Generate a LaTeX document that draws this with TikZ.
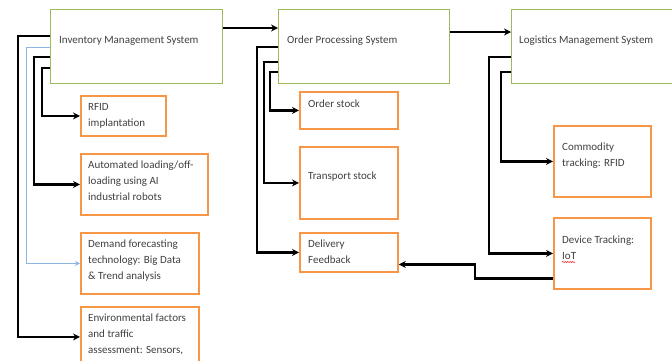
\documentclass[tikz,border=0pt]{standalone}
\usepackage{fontspec}
\setmainfont{Carlito}
\usetikzlibrary{arrows.meta,positioning,calc,decorations.pathmorphing}
\definecolor{sysgreen}{RGB}{155,187,89}
\definecolor{suborange}{RGB}{247,150,70}
\definecolor{linkblue}{RGB}{141,180,226}
\tikzset{
  blk/.style={draw,rectangle,anchor=north west,inner sep=0pt,fill=white},
  sysblk/.style={blk,draw=sysgreen,line width=1.4pt},
  subblk/.style={blk,draw=suborange,line width=1.8pt},
  txt/.style={anchor=base west,inner sep=0pt,align=left,font=\fontsize{11}{16}\selectfont,text=black!75},
  arr/.style={-{Stealth[length=7pt,width=7pt]},line width=2.2pt},
  thinarr/.style={-{Stealth[length=5pt,width=5pt]},linkblue,line width=0.8pt}
}
\begin{document}
\begin{tikzpicture}[x=1pt,y=-1pt]
  \useasboundingbox (0,0) rectangle (672,360);
  % System blocks
  \node[sysblk,minimum width=172pt,minimum height=74pt] (ims) at (50,9) {};
  \node[txt] (ims-t) at (59,43) {Inventory Management System};
  \node[sysblk,minimum width=171pt,minimum height=74pt] (ops) at (278,9) {};
  \node[txt] (ops-t) at (287,43) {Order Processing System};
  \node[sysblk,minimum width=175pt,minimum height=74pt] (lms) at (511,9) {};
  \node[txt] (lms-t) at (519,43) {Logistics Management System};

  % Inventory sub-blocks (text anchored at last baseline)
  \node[subblk,minimum width=85pt,minimum height=40pt] (rfid) at (80,95) {};
  \node[txt] (rfid-t) at (88,126) {RFID\\implantation};
  \node[subblk,minimum width=127pt,minimum height=61pt] (auto) at (80,153) {};
  \node[txt] (auto-t) at (88,200) {Automated loading/off-\\loading using AI\\industrial robots};
  \node[subblk,minimum width=118pt,minimum height=61pt] (dem) at (80,232) {};
  \node[txt] (dem-t) at (88,279) {Demand forecasting\\technology: Big Data\\\& Trend analysis};
  \node[subblk,minimum width=118pt,minimum height=60pt] (env) at (80,306) {};
  \node[txt] (env-t) at (88,353) {Environmental factors\\and traffic\\assessment: Sensors,};

  % Order sub-blocks
  \node[subblk,minimum width=98pt,minimum height=37pt] (ord) at (299,91) {};
  \node[txt] (ord-t) at (308,107) {Order stock};
  \node[subblk,minimum width=98pt,minimum height=72pt] (trn) at (299,146) {};
  \node[txt] (trn-t) at (308,179) {Transport stock};
  \node[subblk,minimum width=98pt,minimum height=39pt] (dlv) at (299,232) {};
  \node[txt] (dlv-t) at (308,263) {Delivery\\Feedback};

  % Logistics sub-blocks
  \node[subblk,minimum width=97pt,minimum height=71pt] (com) at (553,125) {};
  \node[txt] (com-t) at (562,166) {Commodity\\tracking: RFID};
  \node[subblk,minimum width=97pt,minimum height=71pt] (dev) at (553,217) {};
  \node[txt] (dev-t) at (562,259) {Device Tracking:\\IoT};
  \draw[red,line width=0.5pt,decorate,decoration={snake,amplitude=0.5pt,segment length=2.5pt}]
    ($(dev.north west)+(9,45)$) -- ++(13,0);

  % Main flow
  \draw[arr] ($(ims.north east)+(0,19)$) -- ($(ops.north west)+(0,19)$);
  \draw[arr] ($(ops.north east)+(0,23)$) -- ($(lms.north west)+(0,23)$);

  % Inventory links
  \draw[arr] ($(ims.north west)+(0,27)$) -- ++(-32,0) |- (env.west);
  \draw[thinarr] ($(ims.north west)+(0,38)$) -- ++(-24,0) |- (dem.west);
  \draw[arr] ($(ims.north west)+(0,48)$) -- ++(-16,0) |- (auto.west);
  \draw[arr] ($(ims.north west)+(0,59)$) -- ++(-8,0) |- (rfid.west);

  % Order links
  \draw[arr] ($(ops.north west)+(0,38)$) -- ++(-21,0) |- (dlv.west);
  \draw[arr] ($(ops.north west)+(0,53)$) -- ++(-14,0) |- (trn.west);
  \draw[arr] ($(ops.north west)+(0,63)$) -- ++(-8,0) |- (ord.west);

  % Logistics links
  \draw[arr] ($(lms.north west)+(0,48)$) -- ++(-22,0) |- (dev.west);
  \draw[arr] ($(lms.north west)+(0,63)$) -- ++(-10,0) |- (com.west);

  % Feedback
  \draw[arr] ($(dev.west)+(0,25)$) -- ++(-78,0) |- ($(dlv.east)+(0,12)$);
\end{tikzpicture}
\end{document}
